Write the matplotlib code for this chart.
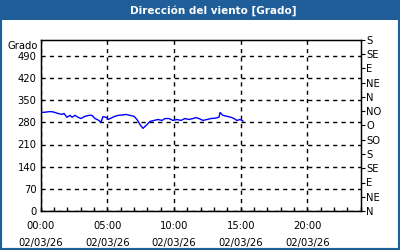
import matplotlib
matplotlib.use("Agg")
import matplotlib.pyplot as plt
import matplotlib.patches as mpatches

hours = [0, 0.32, 0.70, 0.92, 1.30, 1.60, 1.75, 1.97, 2.20, 2.35, 2.57, 2.80, 3.02, 3.32,
         3.62, 3.85, 4.07, 4.37, 4.52, 4.67, 4.90, 5.05, 5.27, 5.50, 5.80, 6.10, 6.40, 6.70,
         7.00, 7.22, 7.45, 7.67, 7.90, 8.20, 8.50, 8.80, 9.10, 9.32, 9.62, 9.92, 10.22, 10.52,
         10.82, 11.12, 11.42, 11.65, 11.87, 12.17, 12.47, 12.77, 13.07, 13.37, 13.45, 13.67,
         13.97, 14.27, 14.50, 14.72, 14.95, 15.17]
direction = [311, 312, 314, 313, 308, 305, 308, 296, 302, 296, 302, 296, 292, 299,
             302, 302, 292, 286, 280, 298, 296, 289, 293, 298, 302, 303, 305, 302,
             299, 289, 273, 261, 270, 283, 286, 289, 286, 292, 292, 286, 289, 286,
             292, 289, 292, 295, 292, 286, 289, 292, 293, 296, 311, 302,
             299, 296, 292, 286, 289, 284]

left_ticks = [0, 70, 140, 210, 280, 350, 420, 490]
right_ticks = [0, 45, 90, 135, 180, 225, 270, 315, 360, 405, 450, 495, 540]
right_labels = ["N", "NE", "E", "SE", "S", "SO", "O", "NO", "N", "NE", "E", "SE", "S"]
x_ticks = [0, 5, 10, 15, 20]
x_labels = ["00:00\n02/03/26", "05:00\n02/03/26", "10:00\n02/03/26", "15:00\n02/03/26", "20:00\n02/03/26"]
title = "Dirección del viento [Grado]"
unit = "Grado"

BLUE = "#1f5e98"
W, H = 400, 250
fig = plt.figure(figsize=(4, 2.5), dpi=100)
fig.patch.set_facecolor("white")
# frame
fig.patches.append(mpatches.Rectangle((0, 0), 1, 1, transform=fig.transFigure,
                                      facecolor="none", edgecolor=BLUE, linewidth=3, zorder=0))
fig.patches.append(mpatches.Rectangle((0, 1 - 20 / H), 1, 20 / H, transform=fig.transFigure,
                                      facecolor=BLUE, edgecolor="none", zorder=0))
fig.text(213 / W, 1 - 10.5 / H, title, color="white", fontsize=7.5, fontweight="bold",
         ha="center", va="center")

ax = fig.add_axes([40.7 / W, 1 - 211 / H, 320 / W, 171 / H])
ax.plot(hours, direction, color="#0000ff", linewidth=1)
ax.set_xlim(0, 24)
ax.set_ylim(0, 540)

ax.set_yticks(left_ticks)
ax.set_yticklabels([str(v) for v in left_ticks], fontsize=7.2)
ax.tick_params(axis="y", length=0, pad=3)
ax.set_xticks(x_ticks)
ax.set_xticklabels(x_labels, fontsize=7.2, linespacing=1.85)
ax.set_xticks(range(0, 25), minor=True)
ax.tick_params(axis="x", which="both", direction="in", length=3, width=1, pad=7)
ax.grid(True, which="major", color="black", linestyle=(0, (3, 3)), linewidth=1)
for s in ax.spines.values():
    s.set_color("black")
    s.set_linewidth(1)

ax2 = ax.twinx()
ax2.set_ylim(0, 540)
ax2.set_yticks(right_ticks)
ax2.set_yticklabels(right_labels, fontsize=7.2)
ax2.tick_params(axis="y", direction="out", length=3, pad=1)

fig.text(8 / W, 1 - 46 / H, unit, fontsize=7.2, ha="left", va="center")

fig.savefig("out.png", dpi=100)
